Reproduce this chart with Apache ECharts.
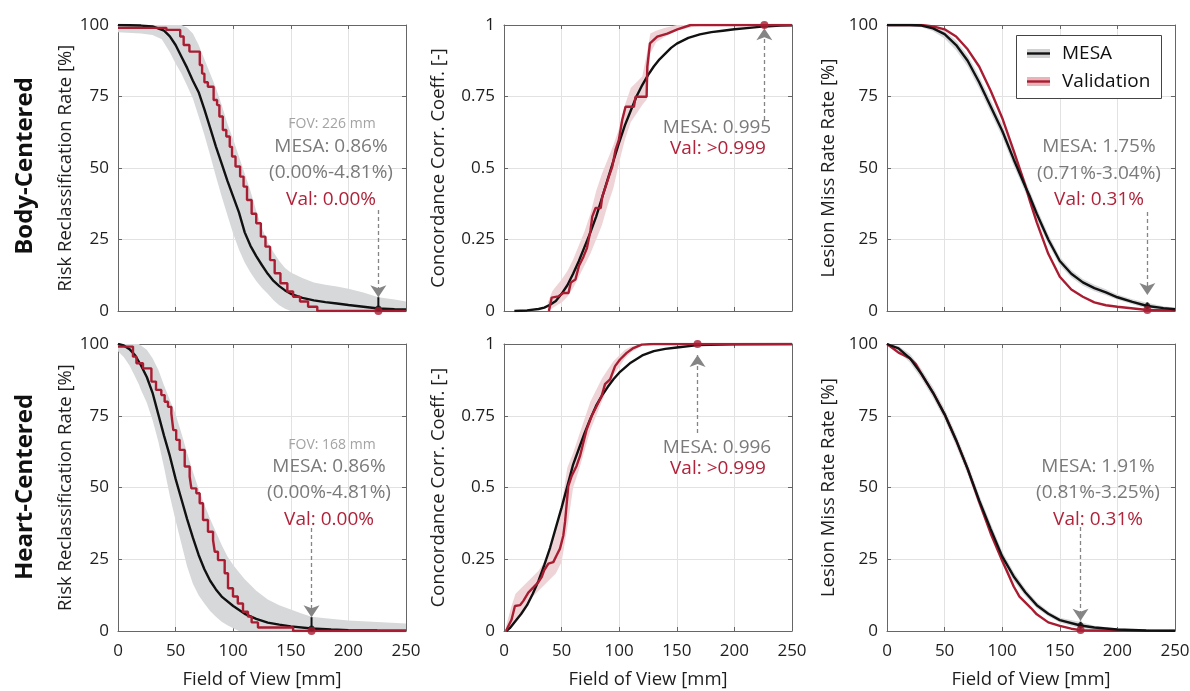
<!DOCTYPE html>
<html><head><meta charset="utf-8">
<script src="https://cdn.jsdelivr.net/npm/echarts@6/dist/echarts.min.js"></script>
<style>html,body{margin:0;padding:0;background:#fff}#c{width:1190px;height:691px}</style>
</head><body><div id="c"></div>
<script>
// ---------------- DATA ----------------
const xTicks = [0, 50, 100, 150, 200, 250];
const rowLabels = ['Body-Centered', 'Heart-Centered'];
const yTitles = ['Risk Reclassification Rate [%]', 'Concordance Corr. Coeff. [-]', 'Lesion Miss Rate Rate [%]'];
const xTitle = 'Field of View [mm]';
const legendNames = ['MESA', 'Validation'];

// Panel 1: Body-centered, risk reclassification
const p1MesaX = [0,20,30,40,45,50,55,60,65,70,75,80,85,90,95,100,105,110,115,120,125,130,135,140,145,150,160,170,180,190,200,213,226,240,250];
const p1MesaY = [100,99.8,99.5,98,96,93,89,85,80.5,76.5,70.5,64,57.5,51.5,45.5,40,34.5,27.5,22.8,19.2,16,13,10.5,8.7,7.2,6,4.6,3.7,3.1,2.6,2.1,1.5,0.86,0.6,0.5];
const p1BandX = [0,20,30,38,45,50,55,60,65,70,75,80,85,90,95,100,105,110,115,120,125,130,135,140,145,150,160,170,180,190,200,213,226,240,250];
const p1BandHi = [100,100,100,100,100,100,100,99,97,93,88,83,78,72,65.5,60,54,48,42,35,29,24,20.5,17.5,15,13.5,11.5,10,9.2,8.6,7.8,6.5,4.81,4,3.3];
const p1BandLo = [97.5,97,96.5,95,90.5,86.5,83,78.8,74.3,68,61.5,54.5,47,40,33.5,27,21.5,17,13.5,10.5,8,6,3.8,2,0.8,0,0,0,0,0,0,0,0,0,0];
const p1ValX = [0,42,54,57,62,71,73,75,78,83,86,88,91,94,97,99,102,106,109,112,116,120,124,128,132,136,141,147,152,158,165,173,250];
const p1ValY = [99,98.3,96,93,90.7,86,83,80,78.4,73.8,72,68,63.3,61,57.4,54,50.5,47,43.5,38.8,34,30.7,26,22.5,17.8,13.2,9.7,6.8,5,3.3,1.5,0,0];

// Panel 2: Body-centered, concordance correlation coefficient
const p2MesaX = [9,20,30,35,40,45,50,55,60,65,70,75,80,85,90,95,100,105,110,115,120,125,130,135,140,145,150,160,170,180,190,200,213,226,240,250];
const p2MesaY = [0,0.002,0.007,0.012,0.022,0.035,0.06,0.09,0.13,0.175,0.225,0.275,0.33,0.395,0.46,0.525,0.59,0.65,0.70,0.75,0.79,0.825,0.855,0.88,0.9,0.92,0.935,0.955,0.967,0.975,0.98,0.985,0.99,0.995,0.998,0.999];
const p2ValX = [39,41.4,47,51.5,56,58,62,65,69,72,75,76.6,79.5,84,85.3,88.2,91,94,96.8,99.7,102.6,105.5,112.8,114.2,123.8,124.4,126.7,133,141.8,150.5,162,250];
const p2ValY = [0,0.047,0.051,0.063,0.063,0.10,0.11,0.157,0.19,0.22,0.28,0.33,0.36,0.36,0.4,0.435,0.47,0.505,0.563,0.598,0.668,0.714,0.714,0.749,0.749,0.854,0.936,0.959,0.97,0.985,1,1];
const p2BandX = [38,42,46,50,55,60,65,70,75,80,85,90,95,100,105,110,115,120,124,127,132,140,150,165,180];
const p2BandLo = [0,0.01,0.02,0.03,0.05,0.08,0.12,0.16,0.2,0.25,0.3,0.37,0.43,0.52,0.6,0.66,0.69,0.72,0.74,0.9,0.94,0.96,0.98,0.995,1];
const p2BandHi = [0.03,0.07,0.09,0.11,0.14,0.18,0.23,0.28,0.34,0.42,0.48,0.53,0.58,0.64,0.72,0.78,0.8,0.82,0.9,0.97,0.98,0.99,1,1,1];

// Panel 3: Body-centered, lesion miss rate
const p3MesaX = [0,20,30,40,50,60,70,80,90,100,110,120,124,130,140,150,160,170,180,190,200,213,226,240,250];
const p3MesaY = [100,100,99.8,98.8,96.8,93,87.5,80,71.5,63,53,43.5,40,34,25,17.5,13,10,8,6.5,4.8,3.2,1.75,1.0,0.6];
const p3BandLo = [99.5,99.5,99.2,97.8,95.3,91.2,85.5,77.8,69.3,60.8,50.8,41.5,38,32,23.3,16,11.7,8.8,6.9,5.5,3.9,2.4,0.8,0.4,0.1];
const p3BandHi = [100,100,100,99.6,98,94.6,89.4,82.1,73.8,65.3,55.2,45.6,42,36,26.8,19,14.3,11.2,9.2,7.6,5.8,4.1,2.9,1.7,1.2];
const p3ValX = [0,30,40,50,60,70,80,90,100,110,120,124,130,140,150,160,170,180,190,200,226,250];
const p3ValY = [100,100,99.5,98.5,96,91.5,85.5,77,67.5,56,44,38.5,31,20,12,7.5,5,3,2,1.5,0.35,0.2];

// Panel 4: Heart-centered, risk reclassification
const p4MesaX = [0,5,10,15,20,25,30,35,40,45,50,55,60,65,70,75,80,85,90,100,110,120,130,140,150,168,185,200,225,250];
const p4MesaY = [100,99.5,98.2,96,92.5,88.5,83,75.5,68,61,53,46,39,32.5,26.5,21.5,17.5,14.5,12,8.7,6,4.2,2.9,2.2,1.6,0.86,0.5,0.3,0.15,0.1];
const p4BandX = [0,5,10,15,18,20,25,30,35,40,45,50,55,60,65,70,75,80,85,90,95,100,105,110,115,120,130,140,150,160,168,180,200,225,250];
const p4BandHi = [100,100,100,100,100,99.5,98,95,91,85.5,80.5,75.5,69,62,55.5,49.5,44,39,34.5,30,26,23,20.5,18,16,14,11,9,7.5,6,5,4.4,3.7,3.1,2.6];
const p4BandLo = [97.5,95.5,92.5,88.5,86,84,79.5,73.5,66,57,47,38.5,30.5,22.5,16.5,12.5,9.6,7,5,3.2,2,1,0,0,0,0,0,0,0,0,0,0,0,0,0];
const p4ValX = [0,13,16,21.7,29,33,37.6,40.5,43.4,46.3,48,50.5,53.5,57.9,62.2,63.7,68,70.9,73.8,78.1,82.5,84,86.8,92.6,95.5,99.8,104,108.5,112.8,116,121.5,152,250];
const p4ValY = [99.1,95.6,93.3,91.5,86.9,84,82.2,79.9,78.1,75.8,70,66.6,63.1,57.3,53.8,49.7,48,44.5,38.7,34.6,31.7,27.6,24.7,20.1,14.9,12,9.6,6.7,5,3,1.2,0,0];

// Panel 5: Heart-centered, concordance correlation coefficient
const p5MesaX = [2,5,10,15,20,25,30,35,40,45,50,55,60,65,70,75,80,85,90,95,100,110,120,130,140,150,168,200,250];
const p5MesaY = [0,0.01,0.035,0.06,0.09,0.13,0.175,0.23,0.29,0.36,0.43,0.505,0.58,0.635,0.69,0.74,0.785,0.82,0.85,0.877,0.9,0.935,0.96,0.975,0.983,0.988,0.996,0.999,1];
const p5ValX = [1.7,6.6,9.5,13.9,16.8,21.1,25.5,29.8,32.7,34.7,38.5,42.8,45.7,48.6,51.5,53,55.8,58.7,63,66,68.9,71.8,76.2,80.5,84.8,87.7,92.1,96.4,100.7,106.5,112.3,119.5,129.6,250];
const p5ValY = [0,0.04,0.087,0.09,0.105,0.134,0.152,0.17,0.188,0.21,0.235,0.24,0.264,0.287,0.333,0.38,0.505,0.54,0.575,0.61,0.657,0.703,0.75,0.784,0.819,0.86,0.877,0.923,0.946,0.969,0.986,0.998,1,1];
const p5BandX = [2,6,10,15,20,25,30,35,40,45,50,55,60,65,70,75,80,85,90,95,100,105,110,120];
const p5BandLo = [0,0.01,0.03,0.06,0.09,0.12,0.14,0.16,0.18,0.2,0.24,0.36,0.5,0.56,0.63,0.7,0.75,0.8,0.85,0.89,0.92,0.95,0.97,0.995];
const p5BandHi = [0.02,0.08,0.13,0.15,0.17,0.19,0.21,0.24,0.28,0.36,0.44,0.57,0.62,0.68,0.74,0.8,0.84,0.88,0.91,0.94,0.96,0.98,0.99,1];

// Panel 6: Heart-centered, lesion miss rate
const p6MesaX = [0,10,20,30,40,50,60,70,80,90,100,110,120,130,140,150,168,180,200,225,250];
const p6MesaY = [100,98.5,95,89.5,83,75.5,66.5,56.5,45.5,35.5,26,19,13.5,9,6,3.8,1.91,1.2,0.5,0.2,0.1];
const p6BandLo = [99.5,97.5,93.5,87.8,81.2,73.6,64.5,54.5,43.5,33.5,24.2,17.4,12.2,7.9,5.1,3,0.9,0.6,0.1,0,0];
const p6BandHi = [100,99.3,96.5,91.2,84.8,77.4,68.5,58.5,47.5,37.5,27.8,20.6,14.8,10.1,6.9,4.6,3.1,1.8,0.9,0.4,0.2];
const p6ValX = [0,5,10,15,20,25,30,40,50,60,70,80,90,100,105,110,115,120,125,130,140,150,160,168,200,250];
const p6ValY = [100,98.5,97,96,95,93,89.5,83,75.5,66.5,56.5,45,34,24.5,20,15.5,12,10,8,5.8,3,1.8,0.8,0.31,0.1,0.05];

// Selected FOV results (annotation values)
const fovBody = 226, fovHeart = 168;
const p1Mesa = 0.86, p1CI = [0, 4.81], p1Val = 0;
const p2Mesa = 0.995, p2Val = 1;
const p3Mesa = 1.75, p3CI = [0.71, 3.04], p3Val = 0.31;
const p4Mesa = 0.86, p4CI = [0, 4.81], p4Val = 0;
const p5Mesa = 0.996, p5Val = 1;
const p6Mesa = 1.91, p6CI = [0.81, 3.25], p6Val = 0.31;

// ---------------- STYLE / LAYOUT ----------------
const FONT = '"Open Sans", "Noto Sans", sans-serif';
const RED = '#a91d32', BLACK = '#111111';
const GRAYBAND = '#d6d8da', PINKBAND = '#efd4d7';
const FRAME = '#666666', GRIDC = '#e2e2e2', TXT = '#1e1e1e';
const MESA_TXT = '#7a7a7a', FOV_TXT = '#a3a3a3', VAL_TXT = '#b0233a';
const colLeft = [118, 504, 887], rowTop = [25, 344], gW = 288, gH = [286, 287];
const yNameGap = [43, 56, 49];

const zip = (xs, ys) => xs.map((x, i) => [x, ys[i]]);

const grid = [], xAxis = [], yAxis = [], series = [];

function addAxes(gi, row, col, yMax) {
  grid.push({left: colLeft[col], top: rowTop[row], width: gW, height: gH[row], outerBoundsMode: 'none', containLabel: false});
  const common = {gridIndex: gi, type: 'value', min: 0, max: 250, interval: 50};
  const line = {show: true, onZero: false, lineStyle: {color: FRAME, width: 1}};
  const tick = {show: true, inside: true, length: 4, lineStyle: {color: FRAME, width: 1}};
  xAxis.push(Object.assign({}, common, {
    position: 'bottom', axisLine: line, axisTick: tick,
    axisLabel: {show: row === 1, margin: 12, fontSize: 17, color: TXT, fontFamily: FONT},
    splitLine: {show: true, lineStyle: {color: GRIDC, width: 1}},
    name: row === 1 ? xTitle : '', nameLocation: 'middle', nameGap: 39,
    nameTextStyle: {fontSize: 18.5, color: TXT, fontFamily: FONT}
  }));
  xAxis.push(Object.assign({}, common, {
    position: 'top', axisLine: line, axisTick: tick, axisLabel: {show: false}, splitLine: {show: false}
  }));
  const yc = {gridIndex: gi, type: 'value', min: 0, max: yMax, interval: yMax / 4};
  yAxis.push(Object.assign({}, yc, {
    position: 'left', axisLine: line, axisTick: tick,
    axisLabel: {show: true, margin: 9, fontSize: 17, color: TXT, fontFamily: FONT},
    splitLine: {show: true, lineStyle: {color: GRIDC, width: 1}},
    name: yTitles[col], nameLocation: 'middle', nameGap: yNameGap[col],
    nameTextStyle: {fontSize: 18.5, color: TXT, fontFamily: FONT}
  }));
  yAxis.push(Object.assign({}, yc, {
    position: 'right', axisLine: line, axisTick: tick, axisLabel: {show: false}, splitLine: {show: false}
  }));
}

function band(gi, xs, lo, hi, color) {
  series.push({
    type: 'custom', xAxisIndex: 2 * gi, yAxisIndex: 2 * gi, silent: true, z: 1, clip: true,
    data: [[xs[0], lo[0]]],
    renderItem: function (params, api) {
      const pts = [];
      for (let i = 0; i < xs.length; i++) pts.push(api.coord([xs[i], hi[i]]));
      for (let i = xs.length - 1; i >= 0; i--) pts.push(api.coord([xs[i], lo[i]]));
      return {type: 'polygon', shape: {points: pts}, style: {fill: color}};
    }
  });
}

function curve(gi, xs, ys, color, z, step) {
  series.push({
    type: 'line', xAxisIndex: 2 * gi, yAxisIndex: 2 * gi, data: zip(xs, ys),
    symbol: 'none', showSymbol: false, step: step || false, silent: true, z: z, clip: true,
    lineStyle: {color: color, width: 2.4}
  });
}

function marks(gi, fx, mesaV, ci, valV, arrowFrom, arrowTo) {
  if (ci) {
    series.push({
      type: 'line', xAxisIndex: 2 * gi, yAxisIndex: 2 * gi, data: [[fx, ci[0]], [fx, ci[1]]],
      symbol: 'none', silent: true, z: 8, lineStyle: {color: BLACK, width: 2}
    });
  }
  const pts = [];
  if (mesaV !== null) pts.push({value: [fx, mesaV], symbolSize: 6, itemStyle: {color: BLACK}});
  pts.push({value: [fx, valV], symbolSize: 8, itemStyle: {color: RED}});
  series.push({
    type: 'scatter', xAxisIndex: 2 * gi, yAxisIndex: 2 * gi, data: pts, silent: true, z: 10, clip: false,
    markLine: {
      silent: true, animation: false, symbol: ['none', 'arrow'], symbolSize: 12,
      label: {show: false}, lineStyle: {type: [4, 3], color: '#858585', width: 1.3},
      emphasis: {disabled: true},
      data: [[{coord: [fx, arrowFrom]}, {coord: [fx, arrowTo]}]]
    }
  });
}

// build panels
addAxes(0, 0, 0, 100);
band(0, p1BandX, p1BandLo, p1BandHi, GRAYBAND);
curve(0, p1MesaX, p1MesaY, BLACK, 3);
curve(0, p1ValX, p1ValY, RED, 4, 'end');
marks(0, fovBody, p1Mesa, p1CI, p1Val, 35.3, 4.81);

addAxes(1, 0, 1, 1);
band(1, p2BandX, p2BandLo, p2BandHi, PINKBAND);
curve(1, p2MesaX, p2MesaY, BLACK, 3);
curve(1, p2ValX, p2ValY, RED, 4);
marks(1, fovBody, null, null, p2Val, 0.668, 0.989);

addAxes(2, 0, 2, 100);
band(2, p3MesaX, p3BandLo, p3BandHi, GRAYBAND);
curve(2, p3ValX, p3ValY, RED, 3);
curve(2, p3MesaX, p3MesaY, BLACK, 4);
marks(2, fovBody, p3Mesa, p3CI, p3Val, 34.6, 5.6);

addAxes(3, 1, 0, 100);
band(3, p4BandX, p4BandLo, p4BandHi, GRAYBAND);
curve(3, p4MesaX, p4MesaY, BLACK, 3);
curve(3, p4ValX, p4ValY, RED, 4, 'end');
marks(3, fovHeart, p4Mesa, p4CI, p4Val, 35.9, 4.81);

addAxes(4, 1, 1, 1);
band(4, p5BandX, p5BandLo, p5BandHi, PINKBAND);
curve(4, p5MesaX, p5MesaY, BLACK, 3);
curve(4, p5ValX, p5ValY, RED, 4);
marks(4, fovHeart, null, null, p5Val, 0.69, 0.962);

addAxes(5, 1, 2, 100);
band(5, p6MesaX, p6BandLo, p6BandHi, GRAYBAND);
curve(5, p6ValX, p6ValY, RED, 3);
curve(5, p6MesaX, p6MesaY, BLACK, 4);
marks(5, fovHeart, p6Mesa, p6CI, p6Val, 36.2, 3.6);

// ---------------- TEXT ANNOTATIONS ----------------
function txt(x, y, text, size, color, weight, rot) {
  return {
    type: 'text', x: x, y: y, rotation: rot || 0, z: 100, silent: true,
    style: {text: text, fontSize: size, fontFamily: FONT, fontWeight: weight || 'normal', fill: color,
      align: 'center', verticalAlign: 'middle'}
  };
}
const pct = v => v.toFixed(2) + '%';
const graphic = [
  txt(25, 166, rowLabels[0], 24, '#111', 'bold', Math.PI / 2),
  txt(25, 487, rowLabels[1], 24, '#111', 'bold', Math.PI / 2),

  txt(332, 124, 'FOV: ' + fovBody + ' mm', 14, FOV_TXT),
  txt(331, 147, 'MESA: ' + pct(p1Mesa), 19, MESA_TXT),
  txt(331, 173, '(' + pct(p1CI[0]) + '-' + pct(p1CI[1]) + ')', 19, MESA_TXT),
  txt(331, 200, 'Val: ' + pct(p1Val), 19, VAL_TXT),

  txt(717, 128, 'MESA: ' + p2Mesa.toFixed(3), 19, MESA_TXT),
  txt(718, 149, 'Val: >0.999', 19, VAL_TXT),

  txt(1099, 147, 'MESA: ' + pct(p3Mesa), 19, MESA_TXT),
  txt(1099, 174, '(' + pct(p3CI[0]) + '-' + pct(p3CI[1]) + ')', 19, MESA_TXT),
  txt(1099, 200, 'Val: ' + pct(p3Val), 19, VAL_TXT),

  txt(332, 445, 'FOV: ' + fovHeart + ' mm', 14, FOV_TXT),
  txt(329, 467, 'MESA: ' + pct(p4Mesa), 19, MESA_TXT),
  txt(329, 493, '(' + pct(p4CI[0]) + '-' + pct(p4CI[1]) + ')', 19, MESA_TXT),
  txt(329, 520, 'Val: ' + pct(p4Val), 19, VAL_TXT),

  txt(717, 448, 'MESA: ' + p5Mesa.toFixed(3), 19, MESA_TXT),
  txt(718, 469, 'Val: >0.999', 19, VAL_TXT),

  txt(1098, 467, 'MESA: ' + pct(p6Mesa), 19, MESA_TXT),
  txt(1098, 493, '(' + pct(p6CI[0]) + '-' + pct(p6CI[1]) + ')', 19, MESA_TXT),
  txt(1098, 520, 'Val: ' + pct(p6Val), 19, VAL_TXT),

  // legend
  {type: 'rect', x: 1016.5, y: 35.5, z: 90, silent: true, shape: {width: 145, height: 63},
    style: {fill: '#fff', stroke: '#444', lineWidth: 1}},
  {type: 'rect', x: 1027, y: 49, z: 91, silent: true, shape: {width: 23, height: 9}, style: {fill: '#cfd1d3'}},
  {type: 'line', z: 92, silent: true, shape: {x1: 1027, y1: 53.5, x2: 1050, y2: 53.5}, style: {stroke: BLACK, lineWidth: 2.4}},
  {type: 'rect', x: 1027, y: 77, z: 91, silent: true, shape: {width: 23, height: 9}, style: {fill: '#e8b4b9'}},
  {type: 'line', z: 92, silent: true, shape: {x1: 1027, y1: 81.5, x2: 1050, y2: 81.5}, style: {stroke: RED, lineWidth: 2.4}},
  {type: 'text', x: 1062, y: 53.5, z: 93, silent: true, style: {text: legendNames[0], fontSize: 19, fontFamily: FONT, fill: '#111', align: 'left', verticalAlign: 'middle'}},
  {type: 'text', x: 1062, y: 81.5, z: 93, silent: true, style: {text: legendNames[1], fontSize: 19, fontFamily: FONT, fill: '#111', align: 'left', verticalAlign: 'middle'}}
];

const chart = echarts.init(document.getElementById('c'), null, {renderer: 'canvas'});
chart.setOption({
  animation: false,
  backgroundColor: '#ffffff',
  grid: grid, xAxis: xAxis, yAxis: yAxis, series: series, graphic: graphic
});
</script></body></html>
